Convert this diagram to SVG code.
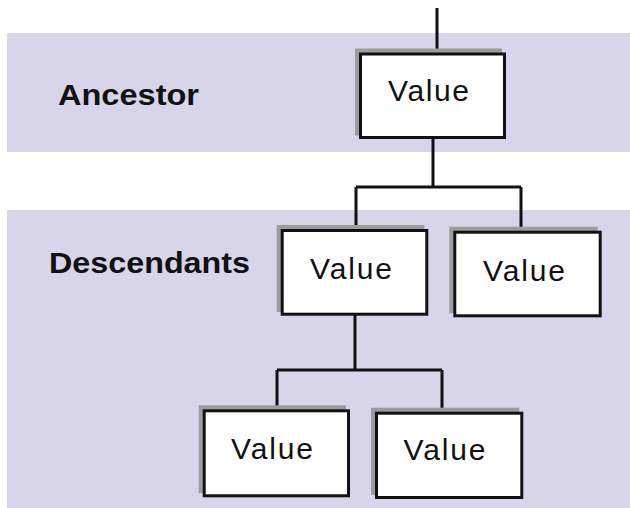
<svg xmlns="http://www.w3.org/2000/svg" width="630" height="508" viewBox="0 0 630 508">
<style>
.band{fill:#d8d4ea}
.shadow{fill:#9c9c9c}
.box{fill:#ffffff;stroke:#111;stroke-width:3}
.val{font-family:"Liberation Sans",Arial,sans-serif;font-size:30px;fill:#111}
.lbl{font-family:"Liberation Sans",Arial,sans-serif;font-size:29px;font-weight:bold;fill:#111}
.conn{fill:none;stroke:#111;stroke-width:3}
</style>
<rect width="630" height="508" fill="#ffffff"/>
<g id="bands">
<rect class="band" x="7" y="33" width="623" height="119"/>
<rect class="band" x="7" y="210" width="623" height="298"/>
</g>
<g id="labels">
<text class="lbl" x="58" y="104.5" textLength="141" lengthAdjust="spacingAndGlyphs">Ancestor</text>
<text class="lbl" x="49" y="273" textLength="201" lengthAdjust="spacingAndGlyphs">Descendants</text>
</g>
<g id="connectors">
<path class="conn" d="M437 8V54"/>
<path class="conn" d="M433 138V187M356 187H521M356 187V230M521 187V232"/>
<path class="conn" d="M355 315V370M277 370H442M277 370V410M442 370V412"/>
</g>
<g id="ancestor">
<rect class="shadow" x="355" y="48.5" width="147" height="87"/>
<rect class="box" x="360.5" y="54" width="144" height="83.5"/>
<text class="val" x="388" y="101" textLength="81" lengthAdjust="spacing">Value</text>
</g>
<g id="desc1">
<rect class="shadow" x="276.7" y="225" width="147.6" height="87"/>
<rect class="box" x="282.2" y="230.5" width="144.6" height="83.7"/>
<text class="val" x="310" y="279" textLength="82" lengthAdjust="spacing">Value</text>
</g>
<g id="desc2">
<rect class="shadow" x="449.3" y="226.7" width="148.4" height="86.6"/>
<rect class="box" x="454.8" y="232.2" width="145.4" height="83.6"/>
<text class="val" x="483" y="281" textLength="82" lengthAdjust="spacing">Value</text>
</g>
<g id="desc3">
<rect class="shadow" x="198.7" y="405.3" width="147.3" height="88"/>
<rect class="box" x="204.2" y="410.8" width="144.3" height="85"/>
<text class="val" x="231" y="458.5" textLength="82" lengthAdjust="spacing">Value</text>
</g>
<g id="desc4">
<rect class="shadow" x="371" y="407.7" width="148.3" height="87.3"/>
<rect class="box" x="376.5" y="413.2" width="145.3" height="84.3"/>
<text class="val" x="403.5" y="460" textLength="82" lengthAdjust="spacing">Value</text>
</g>
</svg>
